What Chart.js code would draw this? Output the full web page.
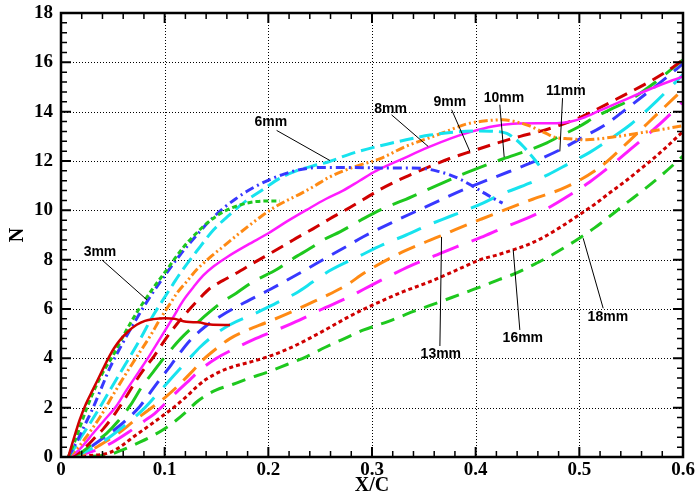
<!DOCTYPE html>
<html>
<head>
<meta charset="utf-8">
<script src="https://cdn.jsdelivr.net/npm/chart.js@4.4.0/dist/chart.umd.min.js"></script>
<style>
body { margin: 0; background: #fff; }
canvas { display: block; }
</style>
</head>
<body>
<canvas id="chart" width="697" height="498"></canvas>
<script>
// curves, [X/C, N]
const mm3 = [[0.007,0],[0.012,0.7],[0.018,1.5],[0.024,2.15],[0.031,2.75],[0.038,3.35],[0.045,3.95],[0.051,4.4],[0.057,4.75],[0.065,5.1],[0.073,5.36],[0.081,5.52],[0.089,5.59],[0.1,5.63],[0.11,5.6],[0.118,5.5],[0.124,5.47],[0.132,5.46],[0.144,5.37],[0.163,5.35]]
const mm4 = [[0.007,0],[0.013,0.6],[0.019,1.3],[0.025,2.0],[0.033,2.8],[0.042,3.55],[0.05,4.1],[0.06,4.9],[0.068,5.5],[0.076,6.05],[0.089,6.85],[0.102,7.59],[0.118,8.5],[0.13,9.05],[0.14,9.45],[0.153,9.85],[0.166,10.12],[0.178,10.28],[0.189,10.36],[0.2,10.38],[0.211,10.38]]
const mm5 = [[0.007,0],[0.015,0.6],[0.023,1.3],[0.031,2.0],[0.039,2.8],[0.047,3.6],[0.058,4.5],[0.07,5.4],[0.086,6.5],[0.1,7.35],[0.115,8.2],[0.131,9.0],[0.144,9.6],[0.157,10.1],[0.168,10.45],[0.179,10.76],[0.19,11.02],[0.202,11.26],[0.215,11.47],[0.227,11.62],[0.24,11.71],[0.25,11.74],[0.276,11.74],[0.308,11.72],[0.335,11.72],[0.349,11.7],[0.362,11.6],[0.375,11.44],[0.387,11.22],[0.397,10.98],[0.406,10.76],[0.414,10.56],[0.42,10.42],[0.426,10.29]]
const mm6 = [[0.007,0],[0.012,0.3],[0.02,0.85],[0.027,1.3],[0.034,1.77],[0.045,2.55],[0.057,3.4],[0.067,4.1],[0.076,4.75],[0.089,5.75],[0.095,6.15],[0.108,7.0],[0.115,7.45],[0.131,8.35],[0.147,9.2],[0.162,9.8],[0.179,10.4],[0.195,10.85],[0.211,11.3],[0.227,11.6],[0.243,11.8],[0.259,11.98],[0.28,12.3],[0.308,12.62],[0.333,12.86],[0.356,13.05],[0.38,13.17],[0.404,13.22],[0.42,13.2],[0.43,13.12],[0.438,12.9],[0.446,12.59],[0.452,12.3],[0.458,12.0],[0.462,11.78]]
const mm7 = [[0.007,0],[0.015,0.3],[0.025,0.85],[0.038,1.64],[0.05,2.5],[0.063,3.4],[0.076,4.25],[0.086,4.9],[0.095,5.55],[0.105,6.2],[0.112,6.65],[0.121,7.1],[0.131,7.6],[0.144,8.1],[0.157,8.55],[0.17,9.0],[0.182,9.4],[0.193,9.75],[0.205,10.1],[0.218,10.4],[0.23,10.65],[0.243,10.95],[0.259,11.35],[0.282,11.75],[0.308,12.1],[0.333,12.6],[0.356,12.95],[0.375,13.25],[0.391,13.5],[0.41,13.63],[0.426,13.67],[0.44,13.58],[0.452,13.42],[0.46,13.27],[0.468,13.12],[0.475,12.98],[0.49,12.9],[0.507,12.86],[0.525,12.93],[0.542,13.03],[0.56,13.15],[0.578,13.27],[0.6,13.43]]
const mm8 = [[0.007,0],[0.015,0.2],[0.022,0.5],[0.031,0.96],[0.042,1.5],[0.054,2.1],[0.063,2.7],[0.075,3.45],[0.086,4.15],[0.1,5.1],[0.108,5.65],[0.118,6.35],[0.128,6.9],[0.137,7.35],[0.147,7.72],[0.16,8.1],[0.18,8.6],[0.2,9.07],[0.218,9.55],[0.237,10.02],[0.255,10.45],[0.272,10.8],[0.288,11.2],[0.304,11.6],[0.33,12.1],[0.354,12.55],[0.376,12.92],[0.397,13.2],[0.416,13.4],[0.436,13.51],[0.46,13.53],[0.478,13.53],[0.492,13.6],[0.503,13.74],[0.52,14.05],[0.542,14.45],[0.57,14.95],[0.6,15.43]]
const mm9 = [[0.007,0],[0.016,0.15],[0.025,0.45],[0.033,0.8],[0.041,1.15],[0.052,1.75],[0.063,2.45],[0.071,3.0],[0.079,3.5],[0.09,4.1],[0.102,4.85],[0.112,5.4],[0.121,5.85],[0.133,6.4],[0.144,6.85],[0.156,7.15],[0.169,7.45],[0.187,7.9],[0.205,8.33],[0.224,8.8],[0.243,9.25],[0.259,9.65],[0.276,10.05],[0.292,10.45],[0.308,10.85],[0.332,11.35],[0.356,11.78],[0.375,12.1],[0.398,12.42],[0.42,12.72],[0.443,13.0],[0.462,13.2],[0.481,13.45],[0.5,13.75],[0.516,14.08],[0.54,14.6],[0.565,15.15],[0.585,15.65],[0.6,16.1]]
const mm10 = [[0.007,0],[0.018,0.15],[0.028,0.45],[0.036,0.7],[0.044,0.96],[0.055,1.45],[0.067,2.1],[0.078,2.85],[0.089,3.45],[0.099,4.0],[0.107,4.4],[0.115,4.78],[0.131,5.42],[0.144,5.9],[0.156,6.3],[0.169,6.64],[0.185,7.1],[0.208,7.6],[0.224,8.05],[0.24,8.45],[0.253,8.8],[0.27,9.15],[0.289,9.6],[0.308,10.02],[0.33,10.4],[0.353,10.83],[0.382,11.37],[0.398,11.64],[0.426,12.08],[0.452,12.45],[0.467,12.7],[0.481,13.0],[0.5,13.4],[0.516,13.8],[0.533,14.15],[0.549,14.48],[0.572,15.15],[0.594,15.9],[0.6,16.1]]
const mm11 = [[0.007,0],[0.02,0.2],[0.03,0.45],[0.04,0.75],[0.05,1.05],[0.063,1.5],[0.076,2.05],[0.085,2.55],[0.095,3.12],[0.103,3.55],[0.11,3.95],[0.124,4.7],[0.138,5.25],[0.153,5.69],[0.173,6.17],[0.202,6.8],[0.23,7.45],[0.259,8.15],[0.276,8.55],[0.292,8.94],[0.324,9.6],[0.356,10.22],[0.388,10.83],[0.42,11.37],[0.452,11.9],[0.481,12.45],[0.505,13.0],[0.526,13.5],[0.545,14.1],[0.565,14.75],[0.583,15.35],[0.6,15.95]]
const mm12 = [[0.007,0],[0.02,0.15],[0.03,0.35],[0.04,0.6],[0.05,0.9],[0.065,1.4],[0.081,2.0],[0.095,2.65],[0.108,3.26],[0.124,4.0],[0.134,4.45],[0.148,4.95],[0.163,5.36],[0.189,5.85],[0.208,6.25],[0.227,6.65],[0.243,7.1],[0.259,7.55],[0.288,8.15],[0.31,8.6],[0.333,9.0],[0.354,9.4],[0.375,9.75],[0.407,10.29],[0.423,10.62],[0.452,11.1],[0.47,11.45],[0.49,11.9],[0.51,12.35],[0.53,12.9],[0.55,13.5],[0.575,14.45],[0.6,15.5]]
const mm13 = [[0.007,0],[0.02,0.1],[0.03,0.3],[0.042,0.6],[0.055,0.95],[0.07,1.45],[0.089,2.05],[0.1,2.4],[0.112,2.85],[0.125,3.4],[0.137,3.94],[0.15,4.4],[0.163,4.8],[0.18,5.15],[0.198,5.45],[0.218,5.8],[0.237,6.17],[0.259,6.6],[0.276,6.98],[0.292,7.45],[0.324,8.2],[0.345,8.6],[0.365,8.94],[0.385,9.3],[0.404,9.62],[0.433,10.1],[0.455,10.45],[0.488,10.96],[0.52,11.75],[0.549,12.85],[0.575,13.9],[0.6,14.9]]
const mm14 = [[0.007,0],[0.02,0.1],[0.035,0.3],[0.05,0.6],[0.065,1.0],[0.08,1.45],[0.09,1.75],[0.1,2.15],[0.112,2.65],[0.124,3.12],[0.137,3.62],[0.15,4.0],[0.163,4.3],[0.185,4.75],[0.208,5.15],[0.23,5.55],[0.25,5.96],[0.276,6.45],[0.292,6.8],[0.315,7.3],[0.337,7.75],[0.36,8.15],[0.382,8.53],[0.405,8.9],[0.426,9.28],[0.452,9.72],[0.468,10.05],[0.49,10.6],[0.51,11.15],[0.53,11.8],[0.55,12.5],[0.575,13.4],[0.6,14.4]]
const mm16 = [[0.007,0],[0.025,0.05],[0.047,0.18],[0.06,0.5],[0.07,0.82],[0.086,1.3],[0.099,1.7],[0.11,2.05],[0.121,2.45],[0.131,2.85],[0.14,3.15],[0.153,3.45],[0.165,3.65],[0.18,3.82],[0.2,4.07],[0.22,4.4],[0.237,4.75],[0.259,5.25],[0.276,5.65],[0.29,5.95],[0.308,6.3],[0.33,6.7],[0.356,7.11],[0.38,7.55],[0.404,7.99],[0.423,8.22],[0.436,8.4],[0.45,8.6],[0.465,8.9],[0.483,9.35],[0.5,9.82],[0.515,10.25],[0.529,10.7],[0.545,11.2],[0.558,11.64],[0.57,12.05],[0.581,12.45],[0.6,13.2]]
const mm18 = [[0.007,0],[0.025,0.02],[0.047,0.1],[0.06,0.3],[0.076,0.6],[0.088,0.85],[0.1,1.15],[0.11,1.45],[0.121,1.84],[0.13,2.2],[0.14,2.5],[0.15,2.72],[0.166,2.95],[0.182,3.2],[0.198,3.42],[0.218,3.75],[0.237,4.07],[0.255,4.45],[0.276,4.85],[0.292,5.15],[0.316,5.5],[0.34,5.9],[0.365,6.28],[0.388,6.64],[0.405,6.9],[0.423,7.2],[0.439,7.45],[0.455,7.78],[0.471,8.13],[0.486,8.5],[0.5,8.87],[0.515,9.3],[0.529,9.75],[0.545,10.28],[0.562,10.83],[0.58,11.45],[0.6,12.2]]

const names = ['3mm','4mm','5mm','6mm','7mm','8mm','9mm','10mm','11mm','12mm','13mm','14mm','16mm','18mm']
const curves = [mm3, mm4, mm5, mm6, mm7, mm8, mm9, mm10, mm11, mm12, mm13, mm14, mm16, mm18]

// labels on the plot: text spot and leader line ends, in data units
const tagText = ['3mm','6mm','8mm','9mm','10mm','11mm','13mm','16mm','18mm']
const tagAt = [[0.0376,8.32],[0.2025,13.59],[0.318,14.12],[0.3751,14.4],[0.4272,14.56],[0.487,14.85],[0.3664,4.18],[0.4455,4.83],[0.5275,5.68]]
const leadFrom = [[0.0395,7.99],[0.208,13.24],[0.3189,13.87],[0.3768,14.08],[0.4233,14.28],[0.4838,14.55],[0.3655,4.5],[0.4426,5.15],[0.523,6.03]]
const leadTo = [[0.0829,6.37],[0.2594,12.02],[0.3542,12.59],[0.3944,12.39],[0.4275,12.16],[0.4812,12.39],[0.3671,8.92],[0.4362,8.4],[0.5037,8.87]]

const RED = '#d00000', GREEN = '#1ec81e', BLUE = '#3838ff', CYAN = '#17e3ee', ORANGE = '#ff8a14', MAGENTA = '#ff1cff'
const colors = [RED, GREEN, BLUE, CYAN, ORANGE, MAGENTA, RED, GREEN, BLUE, CYAN, ORANGE, MAGENTA, RED, GREEN]
const dashes = [[], [5,3], [9,4,2,4], [14,6], [9,3,2,3,2,3], [], [13,8], [26,12], [16,10], [26,14], [18,10], [28,14], [4,3], [14,9]]

const datasets = curves.map(function(c, i){
    return {
        label: names[i],
        data: c.map(p => ({x: p[0], y: p[1]})),
        borderColor: colors[i],
        borderDash: dashes[i],
        borderWidth: dashes[i].length ? 3 : 2.5,
        fill: false
    }
})

const serif = 'Liberation Serif'

function noPad(s){
    s.paddingTop = 0; s.paddingBottom = 0; s.paddingLeft = 0; s.paddingRight = 0
}

const decor = {
    id: 'decor',
    beforeDatasetsDraw(chart){
        const ctx = chart.ctx, x = chart.scales.x, y = chart.scales.y, a = chart.chartArea
        ctx.save()
        ctx.strokeStyle = '#000'
        ctx.lineWidth = 1
        ctx.setLineDash([1, 2])
        for(let i = 1; i < 6; i++){
            const px = Math.round(x.getPixelForValue(i / 10)) + 0.5
            ctx.beginPath(); ctx.moveTo(px, a.top); ctx.lineTo(px, a.bottom); ctx.stroke()
        }
        for(let j = 2; j < 18; j += 2){
            const py = Math.round(y.getPixelForValue(j)) + 0.5
            ctx.beginPath(); ctx.moveTo(a.left, py); ctx.lineTo(a.right, py); ctx.stroke()
        }
        ctx.restore()
    },
    afterDraw(chart){
        const ctx = chart.ctx, x = chart.scales.x, y = chart.scales.y, a = chart.chartArea
        ctx.save()
        ctx.setLineDash([])
        ctx.globalAlpha = 1
        ctx.strokeStyle = '#000000'
        // ticks, pointing in from every side
        for(let i = 0; i <= 30; i++){
            const px = x.getPixelForValue(i * 0.02)
            const len = i % 5 == 0 ? 10 : 6
            ctx.lineWidth = i % 5 == 0 ? 2 : 1.5
            ctx.beginPath()
            ctx.moveTo(px, a.bottom); ctx.lineTo(px, a.bottom - len)
            ctx.moveTo(px, a.top); ctx.lineTo(px, a.top + len)
            ctx.stroke()
        }
        for(let j = 0; j <= 45; j++){
            const py = y.getPixelForValue(j * 0.4)
            const len = j % 5 == 0 ? 10 : 6
            ctx.lineWidth = j % 5 == 0 ? 2 : 1.5
            ctx.beginPath()
            ctx.moveTo(a.left, py); ctx.lineTo(a.left + len, py)
            ctx.moveTo(a.right, py); ctx.lineTo(a.right - len, py)
            ctx.stroke()
        }
        // frame
        ctx.lineWidth = 2.5
        ctx.beginPath()
        ctx.rect(a.left, a.top, a.right - a.left, a.bottom - a.top)
        ctx.stroke()

        // leader lines and labels
        ctx.lineWidth = 1
        tagText.forEach(function(t, k){
            ctx.beginPath()
            ctx.moveTo(x.getPixelForValue(leadFrom[k][0]), y.getPixelForValue(leadFrom[k][1]))
            ctx.lineTo(x.getPixelForValue(leadTo[k][0]), y.getPixelForValue(leadTo[k][1]))
            ctx.stroke()
        })
        ctx.fillStyle = '#000'
        ctx.font = 'bold 14px "Liberation Sans"'
        ctx.textAlign = 'center'
        ctx.textBaseline = 'middle'
        tagText.forEach(function(t, k){
            ctx.fillText(t, x.getPixelForValue(tagAt[k][0]), y.getPixelForValue(tagAt[k][1]))
        })
        ctx.restore()
    }
}

new Chart(document.getElementById('chart'), {
    type: 'line',
    data: { datasets: datasets },
    options: {
        responsive: false,
        animation: false,
        layout: { padding: { top: 13, right: 14, left: 0, bottom: 0 } },
        elements: {
            point: { radius: 0 },
            line: { cubicInterpolationMode: 'monotone' }
        },
        plugins: {
            legend: { display: false },
            tooltip: { enabled: false }
        },
        scales: {
            x: {
                type: 'linear',
                min: 0,
                max: 0.6,
                grid: { display: false, drawTicks: false },
                border: { display: false },
                ticks: {
                    stepSize: 0.1,
                    padding: 2,
                    maxRotation: 0,
                    color: '#000',
                    font: { family: serif, size: 19, weight: 'bold' },
                    callback: v => v == 0 ? '0' : v.toFixed(1)
                },
                title: {
                    display: true,
                    text: 'X/C',
                    color: '#000',
                    padding: { top: 4, bottom: 0 },
                    font: { family: serif, size: 20, weight: 'bold' }
                },
                afterFit: function(s){ s.height = 41; noPad(s) }
            },
            y: {
                type: 'linear',
                min: 0,
                max: 18,
                grid: { display: false, drawTicks: false },
                border: { display: false },
                ticks: {
                    stepSize: 2,
                    padding: 8,
                    color: '#000',
                    font: { family: serif, size: 19, weight: 'bold' }
                },
                title: {
                    display: true,
                    text: 'N',
                    color: '#000',
                    padding: { top: 6, bottom: 0 },
                    font: { family: serif, size: 20, weight: 'bold' }
                },
                afterFit: function(s){ s.width = 61; noPad(s) }
            }
        }
    },
    plugins: [decor]
})
</script>
</body>
</html>
